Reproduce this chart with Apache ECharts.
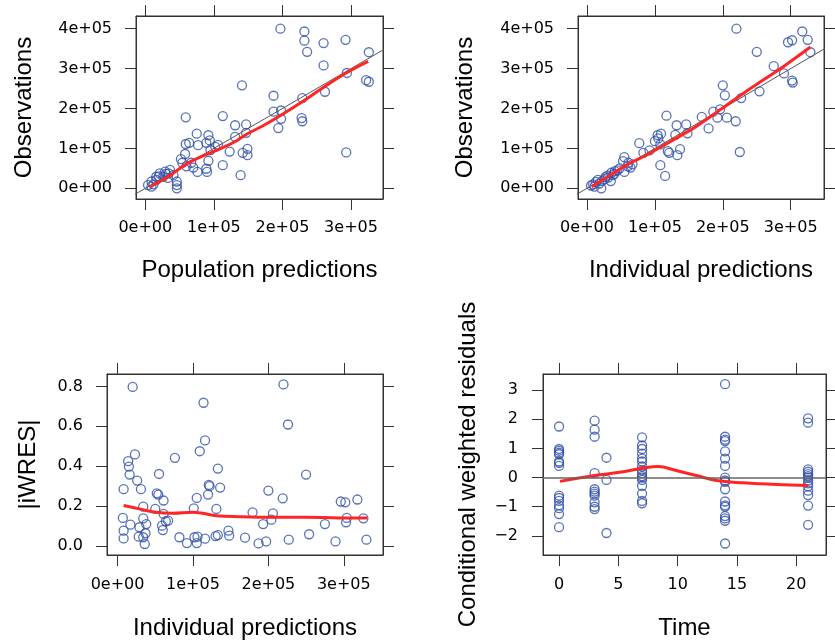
<!DOCTYPE html>
<html>
<head>
<meta charset="utf-8">
<script src="https://cdn.jsdelivr.net/npm/echarts@6/dist/echarts.min.js"></script>
<style>html,body{margin:0;padding:0;background:#fff}#c{width:835px;height:644px}</style>
</head>
<body>
<div id="c"></div>
<script>
// ---- Panel 1: Observations vs Population predictions ----
const popPred = [197000,232000,232000,236000,260000,292000,326000,260000,294000,322000,326000,262000,141000,187000,229000,187000,198000,198000,194000,228000,229000,293000,59000,113000,131000,147000,147000,131000,75000,92000,94000,89000,59000,64000,77000,106000,58000,52000,54000,67000,70000,76000,89000,90000,92000,113000,123000,142000,149000,149000,139000,102000,95000,60000,4000,9000,16000,21000,29000,34000,36000,41000,46000,46000,46000,9000,16000,26000,12000,30000,20000,33000];
const popObs  = [400000,393000,370000,342000,364000,372000,341000,308000,289000,271000,267000,242000,258000,232000,226000,192000,195000,174000,151000,176000,168000,90000,178000,181000,158000,160000,139000,129000,137000,133000,120000,114000,111000,114000,108000,109000,86000,73000,64000,64000,52000,41000,49000,41000,69000,58000,92000,89000,99000,83000,33000,104000,96000,55000,8000,17000,29000,37500,42000,37500,46000,33000,17000,8000,0,4000,21000,29000,10000,36000,30000,26000];
const popSmoothX = [6800,35000,59000,84000,108000,132000,147000,171000,196000,230000,259000,293000,325000];
const popSmoothY = [4000,31000,60000,81000,98000,118000,135000,156000,181000,218000,252000,289000,318000];

// ---- Panel 2: Observations vs Individual predictions ----
const indPred = [220000,317000,296000,302000,325000,329000,250000,275000,290000,302000,303000,254000,200000,203000,227000,117000,169000,186000,196000,192000,206000,219000,179000,132000,146000,148000,130000,104000,100000,108000,77000,83000,92000,119000,121000,133000,137000,225000,108000,115000,55000,53000,61000,64000,55000,41000,36000,31000,26000,16000,9000,11000,21000,13000,35000,38000,67000,109000,105000,45000,22000,30000,18000,6000,48000,60000,40000,27000];
const indObs  = [400000,393000,366000,371000,372000,341000,342000,306000,288000,270000,265000,243000,258000,233000,226000,182000,179000,192000,198000,177000,177000,168000,150000,158000,160000,138000,134000,133000,118000,110000,113000,89000,95000,93000,89000,83000,98000,91000,58000,31000,78000,68000,64000,52000,41000,43000,39000,27000,23000,21000,10000,4000,0,16000,18000,33000,60000,137000,125000,45000,18000,32000,12000,7000,50000,55000,36000,28000];
const indSmoothX = [7000,36000,60000,85000,109000,133000,158000,183000,207000,231000,261000,290000,329000];
const indSmoothY = [4000,35000,60000,81000,104000,127000,152000,181000,210000,239000,273000,306000,354000];

// ---- Panel 3: |iWRES| vs Individual predictions ----
const iwresPred = [20000,220000,114000,226000,116000,109000,76000,23000,14000,15000,16000,26000,8000,31000,55000,133000,121000,122000,136000,120000,105000,52000,54000,61000,250000,200000,219000,131000,101000,50000,34000,296000,302000,318000,7000,17000,34000,38000,64000,67000,59000,60000,61000,179000,206000,193000,204000,304000,303000,326000,275000,254000,8000,8000,29000,28000,34000,37000,36000,82000,92000,102000,106000,105000,116000,130000,133000,147000,148000,169000,187000,197000,227000,289000,330000];
const iwresVal  = [0.797,0.81,0.718,0.609,0.529,0.475,0.442,0.459,0.425,0.398,0.358,0.328,0.285,0.285,0.361,0.388,0.306,0.30,0.293,0.258,0.241,0.264,0.258,0.228,0.358,0.278,0.239,0.186,0.189,0.186,0.197,0.223,0.219,0.233,0.141,0.107,0.139,0.110,0.124,0.127,0.102,0.080,0.161,0.169,0.164,0.110,0.132,0.141,0.119,0.139,0.110,0.059,0.077,0.038,0.094,0.047,0.044,0.064,0.010,0.044,0.015,0.044,0.047,0.015,0.037,0.050,0.055,0.077,0.052,0.042,0.013,0.023,0.032,0.023,0.032];
const iwresSmoothX = [8000,29000,51000,73000,100000,113000,131000,161000,206000,250000,294000,331000];
const iwresSmoothY = [0.203,0.186,0.169,0.164,0.169,0.164,0.152,0.147,0.144,0.144,0.141,0.141];

// ---- Panel 4: CWRES vs Time ----
const cwresTime = [0,0,0,0,0,0,0,0,0,0,0,0,0,0,0,
  3,3,3,3,3,3,3,3,3,3,3,
  4,4,4,
  7,7,7,7,7,7,7,7,7,7,7,7,7,7,7,7,
  14,14,14,14,14,14,14,14,14,14,14,14,14,14,14,14,14,14,
  21,21,21,21,21,21,21,21,21,21,21,21,21,21];
const cwresVal = [1.75,0.98,0.92,0.85,0.80,0.55,0.50,0.40,-0.62,-0.70,-0.80,-0.95,-1.05,-1.25,-1.70,
  1.95,1.64,1.40,0.15,-0.40,-0.48,-0.55,-0.62,-0.85,-1.00,-1.08,
  0.68,-0.08,-1.90,
  1.38,1.10,0.98,0.82,0.65,0.55,0.38,0.25,0.15,0.05,0.00,-0.08,-0.28,-0.55,-0.80,-0.88,
  3.20,1.40,1.30,1.25,0.90,0.65,0.40,0.00,-0.10,-0.15,-0.40,-0.82,-0.95,-1.00,-1.32,-1.40,-1.48,-2.26,
  2.03,1.88,0.28,0.20,0.12,0.05,0.00,-0.10,-0.20,-0.30,-0.45,-0.60,-0.96,-1.62];
const cwresSmoothX = [0.08,2.99,5.1,7.07,8.34,9.89,11.58,13.27,15.52,18.34,21.0];
const cwresSmoothY = [-0.13,0.07,0.18,0.32,0.38,0.24,0.07,-0.10,-0.18,-0.24,-0.27];

// ---- Tick values and labels ----
const predTicks = [0,100000,200000,300000];
const predTickLabels = ['0e+00','1e+05','2e+05','3e+05'];
const obsTicks = [0,100000,200000,300000,400000];
const obsTickLabels = ['0e+00','1e+05','2e+05','3e+05','4e+05'];
const iwresTicks = [0,0.2,0.4,0.6,0.8];
const iwresTickLabels = ['0.0','0.2','0.4','0.6','0.8'];
const timeTicks = [0,5,10,15,20];
const timeTickLabels = ['0','5','10','15','20'];
const cwresTicks = [-2,-1,0,1,2,3];
const cwresTickLabels = ['\u22122','\u22121','0','1','2','3'];

// identity reference line range
const identityRange = [-50000, 450000];

const PT = '#2f4fa8', RED = '#ff2525', AX = '#333';
const tickFont = {fontFamily:'DejaVu Sans', fontSize:16, color:'#000'};
const titleFont = {fontFamily:'Liberation Sans', fontSize:24, color:'#000'};

function lab(ticks, labels){ return v => { for (let i=0;i<ticks.length;i++) if (Math.abs(ticks[i]-v)<1e-9) return labels[i]; return ''; }; }

function axis(kind, gi, pos, min, max, ticks, labels, showLabel, name, nameGap, labelMargin){
  const a = {
    type:'value', gridIndex:gi, position:pos, min:min, max:max,
    axisLine:{show:true, onZero:false, lineStyle:{color:AX, width:1}},
    axisTick:{show:true, inside:false, length:11, customValues:ticks, lineStyle:{color:AX, width:1}},
    axisLabel:{show:showLabel, customValues:ticks, formatter:lab(ticks,labels), margin:labelMargin, ...tickFont},
    splitLine:{show:false}
  };
  if (name){ a.name=name; a.nameLocation='middle'; a.nameGap=nameGap; a.nameTextStyle=titleFont; }
  return a;
}

const grids = [
  {left:136, top:16, width:247, height:183},
  {left:578, top:16, width:246, height:183},
  {left:107, top:374, width:276, height:181},
  {left:543, top:374, width:283, height:181}
];
grids.forEach(g=>{g.show=true; g.borderColor=AX; g.borderWidth=1; g.backgroundColor='transparent'; g.containLabel=false;});

const xAxes = [
  axis('x',0,'bottom',-13560,346650,predTicks,predTickLabels,true,'Population predictions',59,21),
  axis('x',0,'top',-13560,346650,predTicks,predTickLabels,false),
  axis('x',1,'bottom',-13270,349000,predTicks,predTickLabels,true,'Individual predictions',59,21),
  axis('x',1,'top',-13270,349000,predTicks,predTickLabels,false),
  axis('x',2,'bottom',-14030,352000,predTicks,predTickLabels,true,'Individual predictions',61,22),
  axis('x',2,'top',-14030,352000,predTicks,predTickLabels,false),
  axis('x',3,'bottom',-1.352,22.51,timeTicks,timeTickLabels,true,'Time',61,22),
  axis('x',3,'top',-1.352,22.51,timeTicks,timeTickLabels,false)
];
const yAxes = [
  axis('y',0,'left',-26800,431800,obsTicks,obsTickLabels,true,'Observations',100,24),
  axis('y',0,'right',-26800,431800,obsTicks,obsTickLabels,false),
  axis('y',1,'left',-26800,431800,obsTicks,obsTickLabels,true,'Observations',101,24),
  axis('y',1,'right',-26800,431800,obsTicks,obsTickLabels,false),
  axis('y',2,'left',-0.045,0.862,iwresTicks,iwresTickLabels,true,'|iWRES|',67,24),
  axis('y',2,'right',-0.045,0.862,iwresTicks,iwresTickLabels,false),
  axis('y',3,'left',-2.654,3.55,cwresTicks,cwresTickLabels,true,'Conditional weighted residuals',63,25),
  axis('y',3,'right',-2.654,3.55,cwresTicks,cwresTickLabels,false)
];
xAxes.forEach(a=>{ if(a.name) a.nameRotate=0; });
yAxes.forEach(a=>{ if(a.name) a.nameRotate=90; });

function zip(a,b){ return a.map((v,i)=>[v,b[i]]); }
function pts(gi, x, y){
  return {type:'scatter', xAxisIndex:gi*2, yAxisIndex:gi*2, data:zip(x,y), symbol:'circle', symbolSize:9,
    itemStyle:{color:'transparent', borderColor:PT, borderWidth:1.3}, silent:true, z:2};
}
function smooth(gi, x, y){
  return {type:'line', xAxisIndex:gi*2, yAxisIndex:gi*2, data:zip(x,y), smooth:0.4, showSymbol:false,
    lineStyle:{color:RED, width:3}, silent:true, z:4};
}
function identity(gi){
  return {type:'line', xAxisIndex:gi*2, yAxisIndex:gi*2, data:identityRange.map(v=>[v,v]), showSymbol:false,
    lineStyle:{color:'#555', width:1}, silent:true, z:3, clip:true};
}

const series = [
  pts(0,popPred,popObs), identity(0), smooth(0,popSmoothX,popSmoothY),
  pts(1,indPred,indObs), identity(1), smooth(1,indSmoothX,indSmoothY),
  pts(2,iwresPred,iwresVal), smooth(2,iwresSmoothX,iwresSmoothY),
  pts(3,cwresTime,cwresVal),
  {type:'line', xAxisIndex:6, yAxisIndex:6, data:zip(cwresSmoothX,cwresSmoothY), smooth:0.4, showSymbol:false,
   lineStyle:{color:RED, width:3}, silent:true, z:4,
   markLine:{silent:true, symbol:['none','none'], label:{show:false}, lineStyle:{color:'#666', width:1.5, type:'solid'}, data:[{yAxis:0}]}}
];

const chart = echarts.init(document.getElementById('c'), null, {renderer:'canvas'});
chart.setOption({animation:false, backgroundColor:'#fff', grid:grids, xAxis:xAxes, yAxis:yAxes, series:series});
</script>
</body>
</html>
